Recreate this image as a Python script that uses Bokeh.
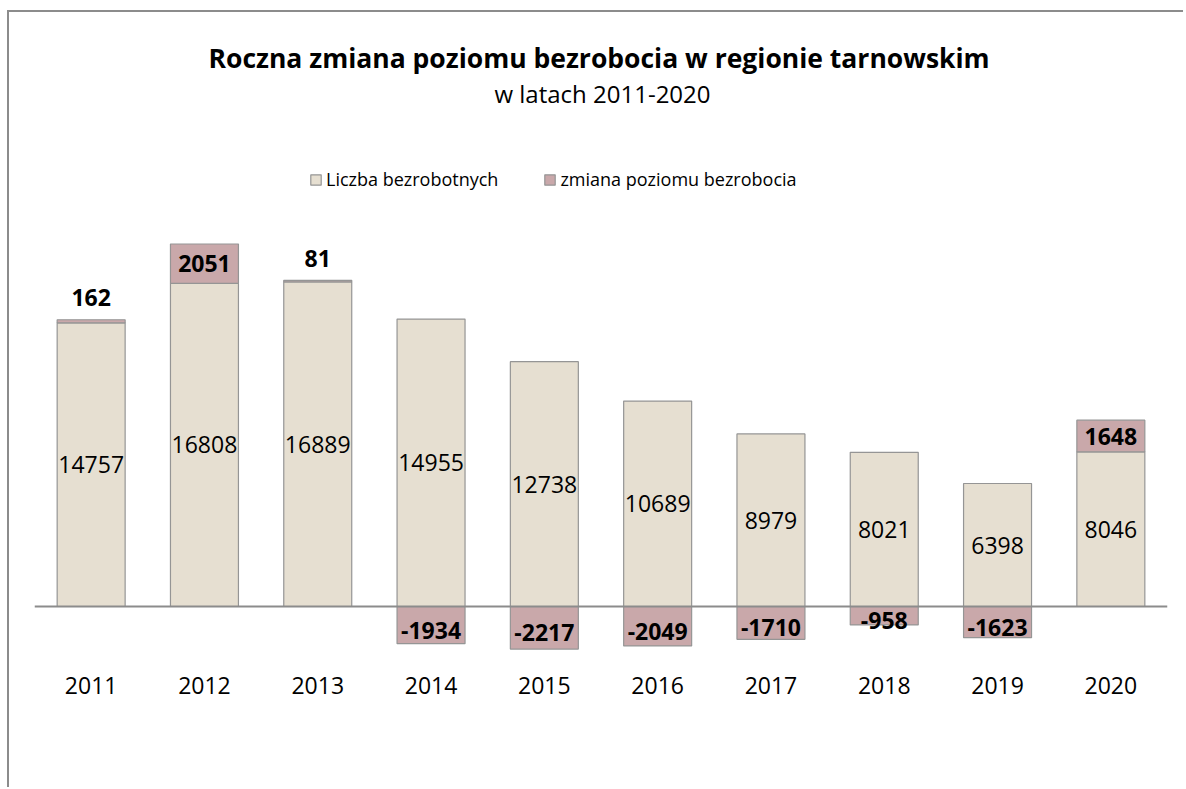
import numpy as np
from bokeh.plotting import figure
from bokeh.models import ColumnDataSource, Span, Label, Legend, LegendItem, Range1d, FactorRange
from bokeh.core.properties import value
from bokeh.embed import file_html
from bokeh.resources import INLINE

years = ["2011", "2012", "2013", "2014", "2015", "2016", "2017", "2018", "2019", "2020"]
liczba = [14757, 16808, 16889, 14955, 12738, 10689, 8979, 8021, 6398, 8046]
zmiana = [162, 2051, 81, -1934, -2217, -2049, -1710, -958, -1623, 1648]

title_main = "Roczna zmiana poziomu bezrobocia w  regionie tarnowskim"
title_sub = "w latach 2011-2020"
legend_labels = ["Liczba bezrobotnych", "zmiana poziomu bezrobocia"]

FONT = "Open Sans"
BEIGE = "#E6DFD1"
PINK = "#C9A8AA"
EDGE = "#959595"

liczba_a = np.array(liczba, dtype=float)
zmiana_a = np.array(zmiana, dtype=float)
zb = np.where(zmiana_a >= 0, liczba_a, zmiana_a)
zt = np.where(zmiana_a >= 0, liczba_a + zmiana_a, 0.0)

small = np.abs(zmiana_a) < 500
lab_y = np.where(small, zt, (zb + zt) / 2)
# screen offset (positive = down)
lab_off = np.where(small, -22, np.where(zmiana_a < 0, 5, 0))

src = ColumnDataSource(dict(
    x=years, liczba=liczba_a, mid=liczba_a / 2, ltxt=[str(v) for v in liczba],
    zb=zb, zt=zt, zy=lab_y, zoff=lab_off, ztxt=[str(v) for v in zmiana],
))

p = figure(x_range=FactorRange(*years, range_padding=0), y_range=Range1d(-3070, 30905),
           width=1176, height=777, output_backend="svg", toolbar_location=None,
           min_border_left=25, min_border_right=18, min_border_top=0, min_border_bottom=124)
p.styles = {"border-left": "2px solid #8C8C8C", "border-top": "2px solid #8C8C8C",
            "margin-left": "7px", "margin-top": "10px"}
p.outline_line_color = None
p.grid.visible = False
p.yaxis.visible = False
p.xaxis.axis_line_color = None
p.xaxis.major_tick_line_color = None
p.xaxis.minor_tick_line_color = None
p.xaxis.major_label_text_font = FONT
p.xaxis.major_label_text_font_size = "23px"
p.xaxis.major_label_text_color = "black"
p.xaxis.major_label_standoff = 5

r1 = p.vbar(x="x", bottom=0, top="liczba", width=0.6, source=src,
            fill_color=BEIGE, line_color=EDGE, line_width=1.2)
r2 = p.vbar(x="x", bottom="zb", top="zt", width=0.6, source=src,
            fill_color=PINK, line_color=EDGE, line_width=1.2)

p.add_layout(Span(location=0, dimension="width", line_color="#8C8C8C", line_width=2))

p.text(x="x", y="mid", text="ltxt", source=src, text_font=value(FONT), text_font_size="23px",
       text_align="center", text_baseline="middle", text_color="black")
p.text(x="x", y="zy", text="ztxt", y_offset="zoff", source=src, text_font=value(FONT),
       text_font_size="23px", text_font_style="bold",
       text_align="center", text_baseline="middle", text_color="black")

p.add_layout(Label(x=568, y=608, x_units="screen", y_units="screen", text=title_main,
                   text_font=FONT, text_font_size="26.5px", text_font_style="bold",
                   text_align="center", text_baseline="middle", text_color="black"))
p.add_layout(Label(x=568, y=572, x_units="screen", y_units="screen", text=title_sub,
                   text_font=FONT, text_font_size="24px",
                   text_align="center", text_baseline="middle", text_color="black"))

legend = Legend(items=[LegendItem(label=legend_labels[0], renderers=[r1]),
                       LegendItem(label=legend_labels[1], renderers=[r2])],
                orientation="horizontal", location=(275, 474),
                glyph_width=13, glyph_height=13, label_standoff=4, spacing=45,
                padding=0, margin=0, border_line_color=None, background_fill_alpha=0,
                label_text_font=FONT, label_text_font_size="18px", label_text_color="black")
p.add_layout(legend, "center")

open("out.html", "w").write(file_html(p, INLINE))
